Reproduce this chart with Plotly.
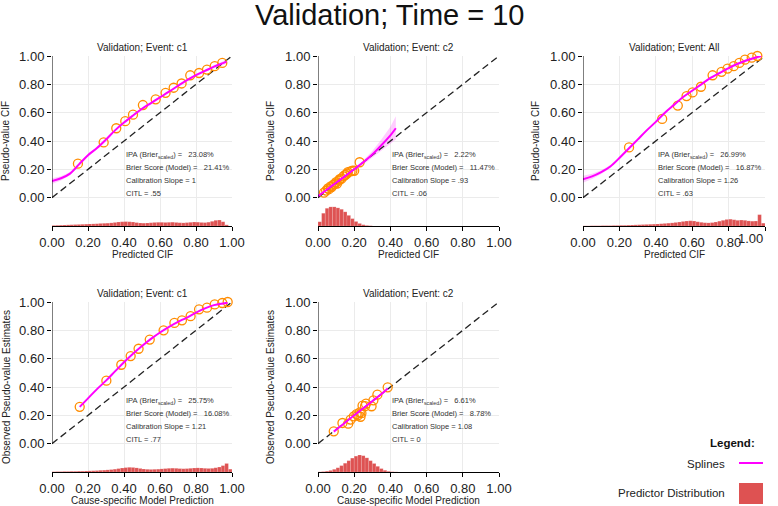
import numpy as np
import plotly.graph_objects as go

# ---------------- data ----------------
main_title = "Validation; Time = 10"
panel_titles = ["Validation; Event: c1", "Validation; Event: c2", "Validation; Event: All",
                "Validation; Event: c1", "Validation; Event: c2"]
x_titles = ["Predicted CIF", "Predicted CIF", "Predicted CIF",
            "Cause-specific Model Prediction", "Cause-specific Model Prediction"]
y_titles = ["Pseudo-value CIF", "Pseudo-value CIF", "Pseudo-value CIF",
            "Observed Pseudo-value Estimates", "Observed Pseudo-value Estimates"]
tick_vals = [0, 0.2, 0.4, 0.6, 0.8, 1.0]
tick_text = ["0.00", "0.20", "0.40", "0.60", "0.80", "1.00"]

ipa_vals = ["23.08%", "2.22%", "26.99%", "25.75%", "6.61%"]
brier_vals = ["21.41%", "11.47%", "16.87%", "16.08%", "8.78%"]
slope_vals = ["1", ".93", "1.26", "1.21", "1.08"]
citl_vals = [".55", ".06", ".63", ".77", "0"]

# panel 1: c1 (CIF)
pred_c1_top = [0.144, 0.287, 0.357, 0.407, 0.45, 0.505, 0.576, 0.631, 0.676, 0.72, 0.768, 0.817, 0.861, 0.904, 0.946]
obs_c1_top = [0.24, 0.39, 0.49, 0.54, 0.586, 0.654, 0.694, 0.74, 0.776, 0.806, 0.864, 0.88, 0.904, 0.928, 0.951]
spl_x_c1_top = [0, 0.05, 0.1, 0.15, 0.2, 0.25, 0.3, 0.35, 0.4, 0.45, 0.5, 0.55, 0.6, 0.65, 0.7, 0.75, 0.8, 0.85, 0.9, 0.95, 0.97]
spl_y_c1_top = [0.117, 0.137, 0.17, 0.235, 0.3, 0.35, 0.41, 0.475, 0.53, 0.58, 0.628, 0.668, 0.708, 0.748, 0.79, 0.83, 0.865, 0.895, 0.925, 0.95, 0.96]
spl_lo_c1_top = [0.097, 0.122, 0.158, 0.225, 0.29, 0.341, 0.402, 0.468, 0.523, 0.573, 0.621, 0.661, 0.701, 0.741, 0.783, 0.822, 0.856, 0.885, 0.914, 0.937, 0.945]
spl_hi_c1_top = [0.137, 0.152, 0.182, 0.245, 0.31, 0.359, 0.418, 0.482, 0.537, 0.587, 0.635, 0.675, 0.715, 0.755, 0.797, 0.838, 0.874, 0.905, 0.936, 0.963, 0.975]
hist_c1_top = [0.004, 0.005, 0.006, 0.007, 0.008, 0.009, 0.010, 0.011, 0.012, 0.013,
               0.014, 0.015, 0.016, 0.018, 0.019, 0.020, 0.022, 0.025, 0.028, 0.030,
               0.031, 0.030, 0.028, 0.024, 0.021, 0.020, 0.021, 0.023, 0.025, 0.026,
               0.026, 0.025, 0.026, 0.027, 0.025, 0.023, 0.022, 0.024, 0.026, 0.028,
               0.027, 0.025, 0.024, 0.027, 0.033, 0.040, 0.042, 0.030, 0.008, 0.0]

# panel 2: c2 (CIF)
pred_c2_top = [0.033, 0.045, 0.055, 0.06, 0.07, 0.075, 0.085, 0.09, 0.1, 0.105, 0.115, 0.12, 0.13, 0.14, 0.15, 0.16, 0.165, 0.18, 0.19, 0.2, 0.23]
obs_c2_top = [0.035, 0.05, 0.065, 0.06, 0.08, 0.075, 0.09, 0.095, 0.11, 0.1, 0.12, 0.13, 0.135, 0.15, 0.16, 0.17, 0.18, 0.185, 0.19, 0.19, 0.25]
spl_x_c2_top = [0, 0.05, 0.1, 0.15, 0.2, 0.25, 0.3, 0.35, 0.4, 0.43]
spl_y_c2_top = [0.01, 0.058, 0.105, 0.152, 0.2, 0.25, 0.305, 0.37, 0.44, 0.49]
spl_lo_c2_top = [0.0, 0.05, 0.098, 0.145, 0.19, 0.235, 0.28, 0.33, 0.38, 0.41]
spl_hi_c2_top = [0.02, 0.066, 0.112, 0.16, 0.21, 0.265, 0.33, 0.41, 0.5, 0.575]
hist_c2_top = [0.03, 0.09, 0.125, 0.135, 0.135, 0.128, 0.118, 0.100, 0.075, 0.052,
               0.032, 0.018, 0.009, 0.004, 0.002]

# panel 3: All (CIF)
pred_all = [0.253, 0.435, 0.521, 0.569, 0.602, 0.648, 0.712, 0.761, 0.794, 0.828, 0.859, 0.89, 0.927, 0.958, 0.976]
obs_all = [0.355, 0.556, 0.65, 0.717, 0.743, 0.783, 0.864, 0.888, 0.911, 0.928, 0.951, 0.974, 0.988, 1.0, 1.005]
spl_x_all = [0, 0.05, 0.1, 0.15, 0.2, 0.25, 0.3, 0.35, 0.4, 0.45, 0.5, 0.55, 0.6, 0.65, 0.7, 0.75, 0.8, 0.85, 0.9, 0.95, 0.98]
spl_y_all = [0.13, 0.15, 0.18, 0.22, 0.28, 0.345, 0.41, 0.475, 0.535, 0.6, 0.655, 0.71, 0.755, 0.8, 0.845, 0.88, 0.915, 0.945, 0.97, 0.99, 1.0]
spl_lo_all = [0.105, 0.132, 0.167, 0.21, 0.271, 0.337, 0.403, 0.469, 0.529, 0.594, 0.649, 0.704, 0.749, 0.794, 0.839, 0.873, 0.907, 0.936, 0.96, 0.978, 0.986]
spl_hi_all = [0.155, 0.168, 0.193, 0.23, 0.289, 0.353, 0.417, 0.481, 0.541, 0.606, 0.661, 0.716, 0.761, 0.806, 0.851, 0.887, 0.923, 0.954, 0.98, 1.002, 1.014]
hist_all = [0.001, 0.001, 0.002, 0.002, 0.002, 0.003, 0.003, 0.003, 0.004, 0.004,
            0.005, 0.005, 0.006, 0.007, 0.008, 0.009, 0.010, 0.011, 0.012, 0.013,
            0.014, 0.016, 0.018, 0.020, 0.022, 0.025, 0.028, 0.032, 0.035, 0.037,
            0.035, 0.030, 0.026, 0.023, 0.022, 0.024, 0.028, 0.034, 0.040, 0.046,
            0.048, 0.044, 0.040, 0.042, 0.040, 0.036, 0.034, 0.035, 0.080, 0.020]

# panel 4: c1 (cause-specific)
pred_c1_bot = [0.154, 0.302, 0.385, 0.437, 0.481, 0.543, 0.62, 0.68, 0.722, 0.77, 0.817, 0.861, 0.904, 0.946, 0.976]
obs_c1_bot = [0.26, 0.445, 0.557, 0.618, 0.67, 0.735, 0.80, 0.852, 0.871, 0.9, 0.948, 0.96, 0.983, 0.993, 1.0]
spl_x_c1_bot = [0.154, 0.2, 0.25, 0.3, 0.35, 0.4, 0.45, 0.5, 0.55, 0.6, 0.65, 0.7, 0.75, 0.8, 0.85, 0.9, 0.95, 0.976]
spl_y_c1_bot = [0.26, 0.32, 0.385, 0.445, 0.51, 0.575, 0.635, 0.69, 0.74, 0.785, 0.825, 0.86, 0.89, 0.925, 0.955, 0.978, 0.99, 0.995]
hist_c1_bot = [0.002, 0.003, 0.003, 0.004, 0.004, 0.005, 0.005, 0.006, 0.006, 0.007,
               0.008, 0.009, 0.010, 0.012, 0.013, 0.015, 0.017, 0.020, 0.024, 0.028,
               0.031, 0.033, 0.032, 0.029, 0.025, 0.021, 0.019, 0.018, 0.019, 0.020,
               0.022, 0.024, 0.026, 0.027, 0.026, 0.024, 0.023, 0.024, 0.026, 0.028,
               0.029, 0.028, 0.026, 0.025, 0.026, 0.030, 0.035, 0.045, 0.060, 0.020]

# panel 5: c2 (cause-specific)
pred_c2_bot = [0.087, 0.135, 0.167, 0.18, 0.198, 0.213, 0.231, 0.22, 0.24, 0.246, 0.265, 0.296, 0.306, 0.328, 0.385, 0.235, 0.26]
obs_c2_bot = [0.087, 0.146, 0.141, 0.17, 0.193, 0.209, 0.221, 0.2, 0.215, 0.268, 0.282, 0.264, 0.306, 0.346, 0.398, 0.19, 0.265]
spl_x_c2_bot = [0.087, 0.15, 0.2, 0.25, 0.3, 0.35, 0.385]
spl_y_c2_bot = [0.085, 0.15, 0.2, 0.25, 0.3, 0.35, 0.39]
hist_c2_bot = [0.001, 0.003, 0.006, 0.011, 0.019, 0.030, 0.045, 0.062, 0.080, 0.098,
               0.112, 0.120, 0.115, 0.100, 0.080, 0.060, 0.040, 0.024, 0.012, 0.005,
               0.002, 0.001]

bin_width = 0.02
bin_centers = np.round(np.arange(0.01, 1.0, bin_width), 2)

# ---------------- styling ----------------
W, H = 778, 506
FONT = "Liberation Sans, Arial, sans-serif"
MAGENTA = "#FF00FF"
BAND = "rgba(255,0,255,0.2)"
ORANGE = "rgb(255,140,0)"
HISTC = "rgb(222,82,82)"
GRID = "#EBEBEB"
TXT = "#222222"

# pixel boxes: (x0, x1, ytop(=1.0), ybottom(=-0.2))
boxes = [(52, 232, 56, 226), (318, 499, 56, 226), (583, 765, 56, 226),
         (52, 232, 302, 472), (318, 499, 302, 472)]
ytitle_x = [6, 271, 536, 6, 270]

panels = [
    (pred_c1_top, obs_c1_top, spl_x_c1_top, spl_y_c1_top, spl_lo_c1_top, spl_hi_c1_top, hist_c1_top),
    (pred_c2_top, obs_c2_top, spl_x_c2_top, spl_y_c2_top, spl_lo_c2_top, spl_hi_c2_top, hist_c2_top),
    (pred_all, obs_all, spl_x_all, spl_y_all, spl_lo_all, spl_hi_all, hist_all),
    (pred_c1_bot, obs_c1_bot, spl_x_c1_bot, spl_y_c1_bot, None, None, hist_c1_bot),
    (pred_c2_bot, obs_c2_bot, spl_x_c2_bot, spl_y_c2_bot, None, None, hist_c2_bot),
]

fig = go.Figure()
layout = dict(width=W, height=H, margin=dict(l=0, r=0, t=0, b=0, autoexpand=False),
              paper_bgcolor="white", plot_bgcolor="white", showlegend=False,
              font=dict(family=FONT, color=TXT))
annotations = []
shapes = []

Y_MIN, Y_MAX = -0.2, 1.0

for i, (px, po, sx, sy, slo, shi, hist) in enumerate(panels):
    n = i + 1
    xa = "x" if n == 1 else f"x{n}"
    ya = "y" if n == 1 else f"y{n}"
    x0, x1, yt, yb = boxes[i]
    xd = [x0 / W, x1 / W]
    yd = [1 - yb / H, 1 - yt / H]
    xkey = "xaxis" if n == 1 else f"xaxis{n}"
    ykey = "yaxis" if n == 1 else f"yaxis{n}"
    # the right-most panel's last x label sits at the page edge: drawn as an annotation kept inside
    edge_panel = (n == 3)
    xt_text = tick_text[:-1] + [" "] if edge_panel else tick_text
    layout[xkey] = dict(domain=xd, range=[0, 1], anchor=ya, tickvals=tick_vals, ticktext=xt_text,
                        showline=True, linecolor="black", linewidth=1, ticks="outside", ticklen=4,
                        tickcolor="black", tickfont=dict(size=13, color=TXT), showgrid=True,
                        gridcolor=GRID, gridwidth=1, zeroline=False, fixedrange=True,
                        automargin=False, ticklabeloverflow="allow")
    layout[ykey] = dict(domain=yd, range=[Y_MIN, Y_MAX], anchor=xa, tickvals=tick_vals, ticktext=tick_text,
                        showline=False, ticks="outside", ticklen=4, tickcolor="black",
                        tickfont=dict(size=13, color=TXT), showgrid=True, gridcolor=GRID,
                        gridwidth=1, zeroline=False, fixedrange=True, automargin=False,
                        ticklabeloverflow="allow")
    if edge_panel:
        annotations.append(dict(text=tick_text[-1], x=764 / W, xref="paper",
                                y=1 - (yb + 13) / H, yref="paper", showarrow=False,
                                xanchor="right", yanchor="middle", borderpad=0,
                                font=dict(size=13, color=TXT)))

    nb = len(hist)
    fig.add_trace(go.Bar(x=bin_centers[:nb], y=hist, base=Y_MIN, width=bin_width,
                         marker=dict(color=HISTC, line=dict(color="rgba(255,255,255,0.45)", width=0.3)),
                         xaxis=xa, yaxis=ya, hoverinfo="skip"))
    if slo is not None:
        fig.add_trace(go.Scatter(x=list(sx) + list(sx)[::-1], y=list(shi) + list(slo)[::-1],
                                 fill="toself", fillcolor=BAND, line=dict(width=0),
                                 mode="lines", xaxis=xa, yaxis=ya, hoverinfo="skip"))
    # diagonal reference
    fig.add_trace(go.Scatter(x=[0, 1], y=[0, 1], mode="lines",
                             line=dict(color="#222222", width=1.3, dash="7px,4px"),
                             xaxis=xa, yaxis=ya, hoverinfo="skip"))
    fig.add_trace(go.Scatter(x=px, y=po, mode="markers", cliponaxis=False,
                             marker=dict(symbol="circle-open", size=9, color=ORANGE,
                                         line=dict(width=1.3, color=ORANGE)),
                             xaxis=xa, yaxis=ya))
    fig.add_trace(go.Scatter(x=sx, y=sy, mode="lines", line=dict(color=MAGENTA, width=2, shape="spline"),
                             cliponaxis=False, xaxis=xa, yaxis=ya))

    # left axis line from 0 to 1
    shapes.append(dict(type="line", xref=xa, yref=ya, x0=0, x1=0, y0=0, y1=1,
                       line=dict(color="black", width=1)))

    cx = (x0 + x1) / 2 / W
    # panel title
    annotations.append(dict(text=panel_titles[i], x=cx, y=1 - (yt - 9) / H, xref="paper", yref="paper",
                            showarrow=False, xanchor="center", yanchor="middle",
                            font=dict(size=10, color=TXT)))
    # x title
    annotations.append(dict(text=x_titles[i], x=cx, y=1 - (yb + 28) / H, xref="paper", yref="paper",
                            showarrow=False, xanchor="center", yanchor="middle", borderpad=0,
                            font=dict(size=10, color=TXT)))
    # y title
    annotations.append(dict(text=y_titles[i], x=ytitle_x[i] / W, y=1 - ((yt + yb) / 2) / H,
                            xref="paper", yref="paper", showarrow=False, textangle=-90,
                            xanchor="center", yanchor="middle", font=dict(size=10, color=TXT)))
    # statistics text
    sp = "\u00a0"
    lines = [f"IPA{sp}(Brier<sub>scaled</sub>) ={sp * 3}{ipa_vals[i]}",
             f"Brier Score (Model) ={sp * 3}{brier_vals[i]}",
             f"Calibration Slope = {slope_vals[i]}",
             f"CITL = {citl_vals[i]}"]
    line_y = [0.3, 0.21, 0.12, 0.03]
    for ln, ly in zip(lines, line_y):
        annotations.append(dict(text=ln, x=0.405, y=ly, xref=xa, yref=ya, showarrow=False,
                                xanchor="left", yanchor="middle", borderpad=0,
                                font=dict(size=7.5, color="#333333")))

# main title
annotations.append(dict(text=main_title, x=0.5, y=1 - 15 / H, xref="paper", yref="paper",
                        showarrow=False, xanchor="center", yanchor="middle",
                        font=dict(size=29, color="#111111")))

# legend (drawn manually)
annotations.append(dict(text="<b>Legend:</b>", x=757 / W, y=1 - 443 / H, xref="paper", yref="paper",
                        showarrow=False, xanchor="right", yanchor="middle",
                        font=dict(size=11.5, color="#111111")))
annotations.append(dict(text="Splines", x=727 / W, y=1 - 464 / H, xref="paper", yref="paper",
                        showarrow=False, xanchor="right", yanchor="middle",
                        font=dict(size=11.5, color=TXT)))
annotations.append(dict(text="Predictor Distribution", x=727 / W, y=1 - 493 / H, xref="paper", yref="paper",
                        showarrow=False, xanchor="right", yanchor="middle",
                        font=dict(size=11.5, color=TXT)))
shapes.append(dict(type="line", xref="paper", yref="paper", x0=739 / W, x1=763 / W,
                   y0=1 - 463 / H, y1=1 - 463 / H, line=dict(color=MAGENTA, width=2)))
shapes.append(dict(type="rect", xref="paper", yref="paper", x0=739 / W, x1=763 / W,
                   y0=1 - 504 / H, y1=1 - 483 / H, line=dict(width=0), fillcolor=HISTC))

layout["annotations"] = annotations
layout["shapes"] = shapes
fig.update_layout(**layout)
fig.write_html("out.html")
